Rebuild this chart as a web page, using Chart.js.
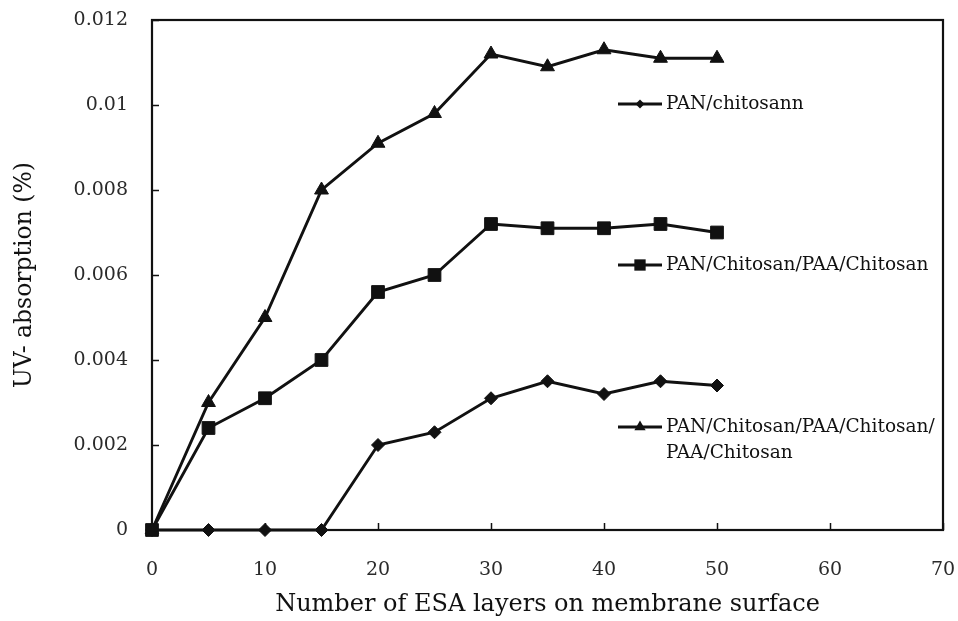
<!DOCTYPE html>
<html>
<head>
<meta charset="utf-8">
<script src="https://cdn.jsdelivr.net/npm/chart.js@4/dist/chart.umd.min.js"></script>
<style>
  html, body { margin: 0; padding: 0; background: #fff; }
  #wrap { width: 958px; height: 621px; }
</style>
</head>
<body>
<div id="wrap"><canvas id="c" width="958" height="621"></canvas></div>
<script>
const layers = [0, 5, 10, 15, 20, 25, 30, 35, 40, 45, 50];
const panChitosan = [0, 0, 0, 0, 0.0020, 0.0023, 0.0031, 0.0035, 0.0032, 0.0035, 0.0034];
const panChiPaaChi = [0, 0.0024, 0.0031, 0.0040, 0.0056, 0.0060, 0.0072, 0.0071, 0.0071, 0.0072, 0.0070];
const panChiPaaChiPaaChi = [0, 0.0030, 0.0050, 0.0080, 0.0091, 0.0098, 0.0112, 0.0109, 0.0113, 0.0111, 0.0111];
const seriesNames = ['PAN/chitosann', 'PAN/Chitosan/PAA/Chitosan', ['PAN/Chitosan/PAA/Chitosan/', 'PAA/Chitosan']];
const xTicks = [0, 10, 20, 30, 40, 50, 60, 70];
const yTicks = [0, 0.002, 0.004, 0.006, 0.008, 0.010, 0.012];
const xTitle = 'Number of ESA layers on membrane surface';
const yTitle = 'UV- absorption (%)';

const FONT = "'DejaVu Serif', 'Liberation Serif', serif";
const INK = '#111';

function pts(arr) { return layers.map((x, i) => ({ x: x, y: arr[i] })); }

function ds(label, arr, style, radius) {
  return {
    label: label, data: pts(arr),
    borderColor: INK, backgroundColor: INK, borderWidth: 2.9,
    pointStyle: style, pointRadius: radius, pointHoverRadius: radius,
    pointBackgroundColor: INK, pointBorderColor: INK, pointBorderWidth: 1,
    tension: 0, clip: false
  };
}

function drawMarker(ctx, style, x, y, r) {
  ctx.beginPath();
  if (style === 'rectRot') {
    ctx.moveTo(x - r, y); ctx.lineTo(x, y - r); ctx.lineTo(x + r, y); ctx.lineTo(x, y + r);
  } else if (style === 'rect') {
    const s = r * Math.SQRT1_2;
    ctx.rect(x - s, y - s, 2 * s, 2 * s);
  } else {
    const w = r * Math.sqrt(3) / 2;
    ctx.moveTo(x, y - r); ctx.lineTo(x + w, y + r / 2); ctx.lineTo(x - w, y + r / 2);
  }
  ctx.closePath();
  ctx.fill();
}

const framePlugin = {
  id: 'frame',
  afterDraw(chart) {
    const ctx = chart.ctx, a = chart.chartArea;
    const xs = chart.scales.x, ys = chart.scales.y;
    ctx.save();
    ctx.strokeStyle = INK; ctx.lineWidth = 2.2;
    ctx.strokeRect(a.left, a.top, a.right - a.left, a.bottom - a.top);
    ctx.lineWidth = 1.5;
    ctx.beginPath();
    xs.ticks.forEach(t => {
      const px = Math.round(xs.getPixelForValue(t.value)) + 0.5;
      ctx.moveTo(px, a.bottom); ctx.lineTo(px, a.bottom - 7);
    });
    ys.ticks.forEach(t => {
      const py = Math.round(ys.getPixelForValue(t.value)) + 0.5;
      ctx.moveTo(a.left, py); ctx.lineTo(a.left + 7, py);
    });
    ctx.stroke();

    // legend entries placed inside the plot area
    const styles = ['rectRot', 'rect', 'triangle'];
    const radii = [4.5, 8, 6.5];
    const rows = [104, 265, 427];
    ctx.fillStyle = INK; ctx.strokeStyle = INK; ctx.lineWidth = 2.9;
    ctx.font = "18.5px " + FONT;
    ctx.textBaseline = 'middle';
    ctx.textAlign = 'left';
    seriesNames.forEach((name, i) => {
      const y = rows[i];
      ctx.beginPath(); ctx.moveTo(618, y); ctx.lineTo(662, y); ctx.stroke();
      drawMarker(ctx, styles[i], 640, y, radii[i]);
      const lines = Array.isArray(name) ? name : [name];
      lines.forEach((ln, j) => ctx.fillText(ln, 666, y + j * 26));
    });
    ctx.restore();
  }
};

new Chart(document.getElementById('c'), {
  type: 'line',
  data: {
    datasets: [
      ds(seriesNames[0], panChitosan, 'rectRot', 6.5),
      ds(seriesNames[1], panChiPaaChi, 'rect', 9),
      ds(seriesNames[2], panChiPaaChiPaaChi, 'triangle', 8)
    ]
  },
  options: {
    responsive: false,
    animation: false,
    events: [],
    layout: { padding: { top: 20, right: 15, left: 0, bottom: 0 } },
    plugins: { legend: { display: false }, tooltip: { enabled: false } },
    scales: {
      x: {
        type: 'linear', min: 0, max: 70,
        afterBuildTicks(s) { s.ticks = xTicks.map(v => ({ value: v })); },
        afterFit(s) { s.height = 91; s.paddingLeft = 0; s.paddingRight = 0; },
        grid: { display: false, drawTicks: false, tickLength: 0 },
        border: { display: false },
        ticks: { color: '#2a2a2a', font: { family: FONT, size: 19 }, padding: 29, maxRotation: 0, autoSkip: false },
        title: { display: true, text: xTitle, color: '#111', font: { family: FONT, size: 24 }, padding: 2 }
      },
      y: {
        type: 'linear', min: 0, max: 0.012,
        afterBuildTicks(s) { s.ticks = yTicks.map(v => ({ value: v })); },
        afterFit(s) { s.width = 152; s.paddingTop = 0; s.paddingBottom = 0; },
        grid: { display: false, drawTicks: false, tickLength: 0 },
        border: { display: false },
        ticks: {
          color: '#2a2a2a', font: { family: FONT, size: 19 }, padding: 24, autoSkip: false,
          callback: v => (v === 0 ? '0' : String(+v.toFixed(3)))
        },
        title: { display: true, text: yTitle, color: '#111', font: { family: FONT, size: 23.5 }, padding: 11 }
      }
    }
  },
  plugins: [framePlugin]
});
</script>
</body>
</html>
